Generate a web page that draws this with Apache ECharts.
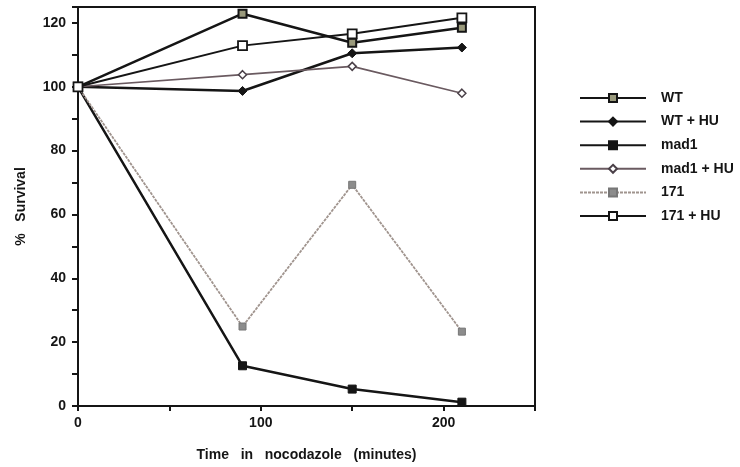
<!DOCTYPE html>
<html>
<head>
<meta charset="utf-8">
<script src="https://cdn.jsdelivr.net/npm/echarts@6/dist/echarts.min.js"></script>
<style>
  html, body { margin: 0; padding: 0; background: #fff; }
  #chart { width: 740px; height: 467px; }
</style>
</head>
<body>
<div id="chart"></div>
<script>
// time in nocodazole (minutes)
const times = [0, 90, 150, 210]
const wt = [100, 122.9, 113.8, 118.5]
const wtHu = [100, 98.7, 110.5, 112.3]
const mad1 = [100, 12.6, 5.3, 1.2]
const mad1Hu = [100, 103.8, 106.4, 98]
const s171 = [100, 24.9, 69.3, 23.3]
const s171Hu = [100, 112.9, 116.6, 121.6]

const names = ['WT', 'WT + HU', 'mad1', 'mad1 + HU', '171', '171 + HU']

const font = 'Liberation Sans, Arial, sans-serif'
const ink = '#151515'

const pairs = (ys) => times.map((t, i) => [t, ys[i]])

const chart = echarts.init(document.getElementById('chart'))

chart.setOption({
  animation: false,
  grid: { left: 78, right: 205, top: 7, bottom: 61, show: true, borderColor: ink, borderWidth: 2, backgroundColor: 'transparent' },
  legend: {
    orient: 'vertical',
    left: 574,
    top: 86,
    itemWidth: 66,
    itemHeight: 10,
    itemGap: 9.6,
    data: names,
    textStyle: { fontFamily: font, fontWeight: 'bold', fontSize: 14, color: ink, padding: [0, 0, 0, 10] }
  },
  xAxis: {
    type: 'value',
    min: 0,
    max: 250,
    interval: 50,
    name: 'Time   in   nocodazole   (minutes)',
    nameLocation: 'middle',
    nameGap: 42,
    nameTextStyle: { fontFamily: font, fontWeight: 'bold', fontSize: 14, color: ink },
    axisLine: { lineStyle: { color: ink, width: 2 } },
    axisTick: { length: 5, lineStyle: { color: ink, width: 2 } },
    axisLabel: {
      fontFamily: font, fontWeight: 'bold', fontSize: 14, color: ink, margin: 10,
      formatter: v => (v % 100 === 0 ? String(v) : '')
    },
    splitLine: { show: false }
  },
  yAxis: {
    type: 'value',
    min: 0,
    max: 125,
    interval: 10,
    name: '%   Survival',
    nameLocation: 'middle',
    nameGap: 50,
    nameTextStyle: { fontFamily: font, fontWeight: 'bold', fontSize: 14, color: ink },
    axisLine: { lineStyle: { color: ink, width: 2 } },
    axisTick: { length: 6, lineStyle: { color: ink, width: 2 } },
    axisLabel: {
      fontFamily: font, fontWeight: 'bold', fontSize: 14, color: ink, margin: 12,
      formatter: v => (v % 20 === 0 ? String(v) : '')
    },
    splitLine: { show: false }
  },
  series: [
    {
      name: 'WT', type: 'line', data: pairs(wt),
      symbol: 'rect', symbolSize: 8,
      lineStyle: { color: ink, width: 2.5 },
      itemStyle: { color: '#9a9a7c', borderColor: ink, borderWidth: 2 }
    },
    {
      name: 'WT + HU', type: 'line', data: pairs(wtHu),
      symbol: 'diamond', symbolSize: 9,
      lineStyle: { color: ink, width: 2.5 },
      itemStyle: { color: ink, borderColor: ink, borderWidth: 1 }
    },
    {
      name: 'mad1', type: 'line', data: pairs(mad1),
      symbol: 'rect', symbolSize: 8,
      lineStyle: { color: ink, width: 2.5 },
      itemStyle: { color: ink, borderColor: ink, borderWidth: 1 }
    },
    {
      name: 'mad1 + HU', type: 'line', data: pairs(mad1Hu),
      symbol: 'diamond', symbolSize: 8,
      lineStyle: { color: '#6a5a60', width: 1.6 },
      itemStyle: { color: '#fff', borderColor: '#4a4048', borderWidth: 1.5 }
    },
    {
      name: '171', type: 'line', data: pairs(s171),
      symbol: 'rect', symbolSize: 7,
      lineStyle: { color: '#a0948e', width: 1.8, type: [3, 1] },
      itemStyle: { color: '#8c8c8c', borderColor: '#777', borderWidth: 1 }
    },
    {
      name: '171 + HU', type: 'line', data: pairs(s171Hu),
      symbol: 'rect', symbolSize: 9,
      lineStyle: { color: ink, width: 2 },
      itemStyle: { color: '#fff', borderColor: ink, borderWidth: 1.8 }
    }
  ]
})
</script>
</body>
</html>
